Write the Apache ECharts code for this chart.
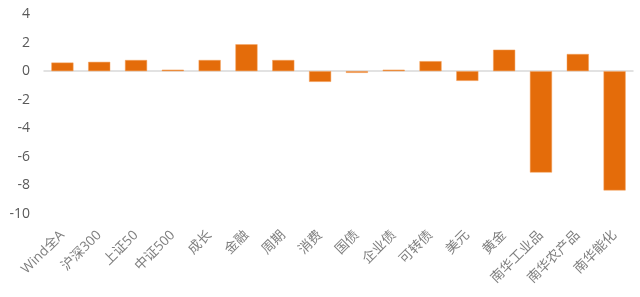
<!DOCTYPE html>
<html>
<head>
<meta charset="utf-8">
<script src="https://cdn.jsdelivr.net/npm/echarts@6/dist/echarts.min.js"></script>
<style>html,body{margin:0;padding:0;background:#fff;}#chart{width:640px;height:297px;}</style>
</head>
<body>
<div id="chart"></div>
<script>
const categories = ['Wind全A','沪深300','上证50','中证500','成长','金融','周期','消费','国债','企业债','可转债','美元','黄金','南华工业品','南华农产品','南华能化'];
const values = [0.6, 0.65, 0.78, 0.1, 0.78, 1.88, 0.78, -0.75, -0.12, 0.1, 0.7, -0.68, 1.5, -7.1, 1.2, -8.35];
const yTicks = { min: -10, max: 4, interval: 2 };

const chart = echarts.init(document.getElementById('chart'), null, { renderer: 'canvas' });
chart.setOption({
  animation: false,
  grid: { left: 44, right: 7, top: 14, bottom: 83, containLabel: false },
  xAxis: {
    type: 'category',
    data: categories,
    axisLine: { show: true, onZero: true, lineStyle: { color: '#d9d9d9', width: 1.5 } },
    axisTick: { show: false },
    axisLabel: {
      interval: 0, rotate: 45, margin: 19,
      color: '#7f7f7f', fontSize: 13.5,
      fontFamily: '"Open Sans","Noto Sans CJK SC",sans-serif'
    }
  },
  yAxis: {
    type: 'value',
    min: yTicks.min, max: yTicks.max, interval: yTicks.interval,
    axisLine: { show: false },
    axisTick: { show: false },
    splitLine: { show: false },
    axisLabel: {
      color: '#595959', fontSize: 14, margin: 14,
      fontFamily: '"Open Sans","Noto Sans",sans-serif'
    }
  },
  series: [{
    type: 'bar',
    data: values,
    barWidth: '60%',
    itemStyle: { color: '#E46C0A', borderColor: '#F5A35E', borderWidth: 0.5 }
  }]
});
</script>
</body>
</html>
